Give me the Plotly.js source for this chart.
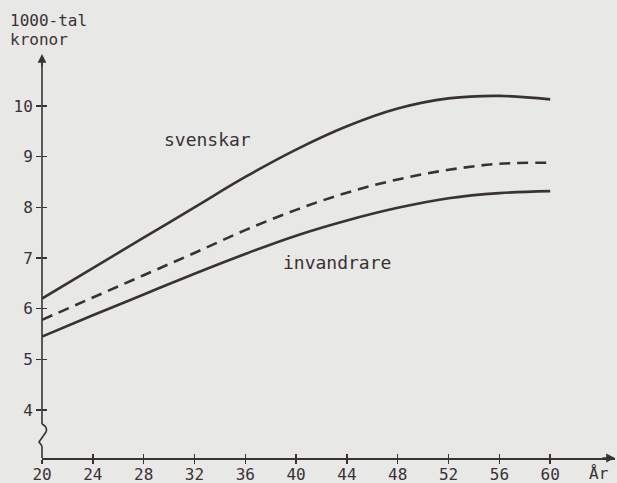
<!DOCTYPE html>
<html>
<head>
<meta charset="utf-8">
<script src="https://cdn.plot.ly/plotly-3.0.1.min.js"></script>
<style>html,body{margin:0;padding:0;background:#e8e8e6;}#chart{width:617px;height:483px;}</style>
</head>
<body>
<div id="chart"></div>
<script>
// ---- data ----
const years = [20, 24, 28, 32, 36, 40, 44, 48, 52, 56, 60];
const svenskar   = [6.2, 6.8, 7.4, 8.0, 8.6, 9.14, 9.6, 9.95, 10.15, 10.2, 10.13];
const samtliga   = [5.78, 6.22, 6.66, 7.1, 7.55, 7.95, 8.29, 8.55, 8.74, 8.86, 8.88];
const invandrare = [5.45, 5.87, 6.28, 6.69, 7.08, 7.44, 7.74, 7.99, 8.18, 8.28, 8.32];
const yTicks = [4, 5, 6, 7, 8, 9, 10];
const xTicks = [20, 24, 28, 32, 36, 40, 44, 48, 52, 56, 60];
const yTitleLines = ['1000-tal', 'kronor'];
const xTitle = 'År';
const labelSvenskar = 'svenskar';
const labelInvandrare = 'invandrare';

const ink = '#3a3135';
const bg = '#e8e8e6';
const font = 'DejaVu Sans Mono, monospace';

const yRange = [3.053, 11.105];
const xRange = [20, 65.1];

// helpers for decoration placement (plot area: left 42px, width 573px, top 50px, height 408px)
const PL = 42, PW = 573, PT = 50, PH = 408;
const px = p => (p - PL) / PW;              // pixel x -> paper x
const py = p => (PT + PH - p) / PH;         // pixel y -> paper y
const pyv = p => 4 - (p - 410) / 50.67;     // pixel y -> y value (decoration only)

const lineStyle = {color: ink, width: 2.6, shape: 'spline', smoothing: 1};
const traces = [
  {x: years, y: svenskar, mode: 'lines', line: lineStyle, hoverinfo: 'skip'},
  {x: years, y: samtliga, mode: 'lines', line: Object.assign({}, lineStyle, {dash: '11px,7px'}), hoverinfo: 'skip'},
  {x: years, y: invandrare, mode: 'lines', line: lineStyle, hoverinfo: 'skip'},
  {x: [], y: [], xaxis: 'x2', yaxis: 'y2', hoverinfo: 'skip'}
];

const zig = 'M ' + px(42) + ',' + pyv(424) +
  ' Q ' + px(48) + ',' + pyv(427) + ' ' + px(46) + ',' + pyv(432) +
  ' L ' + px(39) + ',' + pyv(442) +
  ' L ' + px(42) + ',' + pyv(446);

const layout = {
  width: 617, height: 483,
  margin: {l: PL, r: 617 - PL - PW, t: PT, b: 483 - PT - PH},
  paper_bgcolor: bg, plot_bgcolor: bg,
  showlegend: false,
  font: {family: font, color: ink, size: 16},
  xaxis: {range: xRange, tickvals: xTicks, ticktext: xTicks.map(String), showgrid: false, zeroline: false,
          showline: true, linecolor: ink, linewidth: 2, ticks: 'outside', ticklen: 4, tickwidth: 1.5, tickcolor: ink,
          ticklabelstandoff: -3,
          tickfont: {family: font, size: 16, color: ink}, fixedrange: true},
  yaxis: {range: yRange, tickvals: yTicks, ticktext: yTicks.map(String), showgrid: false, zeroline: false,
          showline: false, ticks: 'outside', ticklen: 5, tickwidth: 1.5, tickcolor: ink,
          tickfont: {family: font, size: 16, color: ink}, fixedrange: true},
  xaxis2: {range: xRange, overlaying: 'x', tickvals: xTicks, showticklabels: false, showgrid: false, zeroline: false,
           showline: false, ticks: 'inside', ticklen: 4, tickwidth: 1.5, tickcolor: ink, fixedrange: true},
  yaxis2: {range: yRange, overlaying: 'y', side: 'left', tickvals: yTicks, showticklabels: false, showgrid: false,
           zeroline: false, showline: false, ticks: 'inside', ticklen: 5, tickwidth: 1.5, tickcolor: ink, fixedrange: true},
  shapes: [
    {type: 'line', xref: 'paper', yref: 'y', x0: 0, x1: 0, y0: yRange[0], y1: pyv(446), line: {color: ink, width: 1.6}},
    {type: 'path', xref: 'paper', yref: 'y', path: zig, line: {color: ink, width: 1.6}},
    {type: 'line', xref: 'paper', yref: 'y', x0: 0, x1: 0, y0: pyv(424), y1: pyv(57), line: {color: ink, width: 1.6}}
  ],
  annotations: [
    {xref: 'paper', yref: 'y', x: 0, y: pyv(54), ax: 0, ay: 14, axref: 'pixel', ayref: 'pixel', text: '',
     showarrow: true, arrowhead: 2, arrowsize: 1.1, arrowwidth: 1.6, arrowcolor: ink},
    {xref: 'paper', yref: 'paper', x: 1, y: 0, ax: -14, ay: 0, text: '',
     showarrow: true, arrowhead: 2, arrowsize: 1.1, arrowwidth: 1.6, arrowcolor: ink},
    {xref: 'paper', yref: 'paper', x: px(8), y: py(20), text: yTitleLines[0], showarrow: false, xanchor: 'left', yanchor: 'middle',
     font: {family: font, size: 16, color: ink}},
    {xref: 'paper', yref: 'paper', x: px(8), y: py(39), text: yTitleLines[1], showarrow: false, xanchor: 'left', yanchor: 'middle',
     font: {family: font, size: 16, color: ink}},
    {xref: 'paper', yref: 'paper', x: px(599), y: py(473), text: xTitle, showarrow: false, xanchor: 'center', yanchor: 'middle',
     font: {family: font, size: 16, color: ink}},
    {xref: 'x', yref: 'y', x: 33.0, y: 9.33, text: labelSvenskar, showarrow: false, font: {family: font, size: 18, color: ink}},
    {xref: 'x', yref: 'y', x: 43.2, y: 6.92, text: labelInvandrare, showarrow: false, font: {family: font, size: 18, color: ink}}
  ]
};

Plotly.newPlot('chart', traces, layout, {staticPlot: true, displayModeBar: false});
</script>
</body>
</html>
